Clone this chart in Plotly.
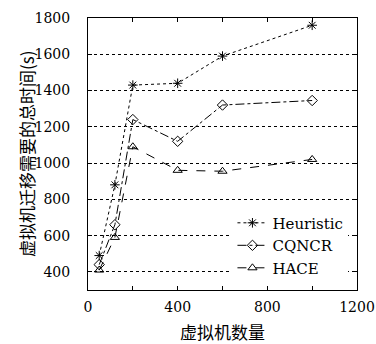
import plotly.graph_objects as go

vm_counts = [50, 120, 200, 400, 600, 1000]
heuristic = [490, 880, 1430, 1440, 1590, 1760]
cqncr = [440, 660, 1240, 1120, 1320, 1345]
hace = [410, 590, 1090, 960, 955, 1020]

x_ticks = [0, 200, 400, 600, 800, 1000, 1200]
x_tick_text = ["0", "", "400", "", "800", "", "1200"]
y_ticks = [400, 600, 800, 1000, 1200, 1400, 1600, 1800]

serif = "DejaVu Serif, Liberation Serif, serif"
cjk = "Noto Sans CJK SC"

fig = go.Figure()
series = [
    ("Heuristic", heuristic, "dot", "asterisk-open", 8),
    ("CQNCR", cqncr, "dashdot", "diamond-open", 8),
    ("HACE", hace, "dash", "triangle-up-open", 8),
]
for name, vals, dash, sym, sz in series:
    fig.add_trace(go.Scatter(
        x=vm_counts, y=vals, name=name, mode="lines+markers",
        line=dict(color="black", width=1, dash=dash),
        marker=dict(symbol=sym, size=sz, color="black",
                    line=dict(color="black", width=1)),
    ))

axis_common = dict(
    showline=True, mirror="ticks", linecolor="black", linewidth=1,
    ticks="inside", ticklen=4, tickcolor="black",
    tickfont=dict(family=serif, size=14, color="black"),
    zeroline=False, automargin=False,
)
fig.update_xaxes(
    range=[0, 1200], tickvals=x_ticks, ticktext=x_tick_text,
    showgrid=False, ticklabelstandoff=4,
    **axis_common,
)
fig.update_yaxes(
    range=[300, 1800], tickvals=y_ticks,
    showgrid=True, gridcolor="black", griddash="dot", gridwidth=1,
    ticklabelstandoff=14,
    **axis_common,
)
fig.add_annotation(
    text="虚拟机数量", xref="paper", yref="paper", x=0.5, y=0,
    xanchor="center", yanchor="middle", yshift=-41, showarrow=False,
    font=dict(family=cjk, size=17, color="black"),
)
fig.add_annotation(
    text="虚拟机迁移需要的总时间(s)", xref="paper", yref="paper", x=0, y=0.5,
    xanchor="center", yanchor="middle", xshift=-62, textangle=-90, showarrow=False,
    font=dict(family=cjk, size=17, color="black"),
)
fig.update_layout(
    width=376, height=344,
    margin=dict(l=88, r=19, t=18, b=54),
    paper_bgcolor="white", plot_bgcolor="white",
    showlegend=True,
    legend=dict(
        x=0.537, y=0.02, xanchor="left", yanchor="bottom",
        bgcolor="white", borderwidth=0,
        font=dict(family=serif, size=15, color="black"),
        itemwidth=30, tracegroupgap=0,
    ),
)
fig.write_html(
    "out.html",
    config={"displayModeBar": False},
    post_script="document.body.style.margin='0';document.body.style.overflow='hidden';",
)
